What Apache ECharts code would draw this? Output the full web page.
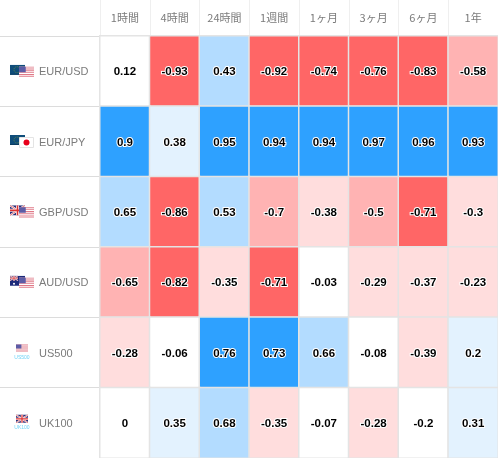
<!DOCTYPE html>
<html><head><meta charset="utf-8">
<style>html,body{margin:0;padding:0;background:#fff}#c{width:498px;height:458px}</style>
<script src="https://cdn.jsdelivr.net/npm/echarts@6/dist/echarts.min.js"></script>
</head><body><div id="c"></div>
<script>
const periods = ['1時間','4時間','24時間','1週間','1ヶ月','3ヶ月','6ヶ月','1年'];
const instruments = ['EUR/USD','EUR/JPY','GBP/USD','AUD/USD','US500','UK100'];
const subLabels = ['','','','','US500','UK100'];
const rowEURUSD = [0.12,-0.93,0.43,-0.92,-0.74,-0.76,-0.83,-0.58];
const rowEURJPY = [0.9,0.38,0.95,0.94,0.94,0.97,0.96,0.93];
const rowGBPUSD = [0.65,-0.86,0.53,-0.7,-0.38,-0.5,-0.71,-0.3];
const rowAUDUSD = [-0.65,-0.82,-0.35,-0.71,-0.03,-0.29,-0.37,-0.23];
const rowUS500 = [-0.28,-0.06,0.76,0.73,0.66,-0.08,-0.39,0.2];
const rowUK100 = [0,0.35,0.68,-0.35,-0.07,-0.28,-0.2,0.31];
const rows = [rowEURUSD,rowEURJPY,rowGBPUSD,rowAUDUSD,rowUS500,rowUK100];

const cellData = [];
rows.forEach((r,y)=>r.forEach((v,x)=>cellData.push([x,y,v])));

const eu = (x,y)=>`<g transform="translate(${x} ${y})"><rect width="15" height="10" fill="#0f4d7a"/><rect y="9" width="15" height="1" fill="#0a3c60"/><circle cx="7" cy="5" r="3" fill="none" stroke="#7f9a3a" stroke-width=".7" stroke-dasharray="1 1"/></g>`;
const usStripes = (x,y,w,h)=>{let s=`<rect x="${x}" y="${y}" width="${w}" height="${h}" fill="#fff"/>`;const n=6;for(let i=0;i<n;i++)s+=`<rect x="${x}" y="${y+i*h/n}" width="${w}" height="${h/(2*n)}" fill="#e07a88"/>`;s+=`<rect x="${x}" y="${y}" width="${w*0.45}" height="${h*0.5}" fill="#5c5ca6"/>`;return s;};
const uk = (x,y,w,h)=>`<g transform="translate(${x} ${y}) scale(${w/15} ${h/10})"><rect width="15" height="10" fill="#2b2f7a"/><path d="M0 0L15 10M15 0L0 10" stroke="#fff" stroke-width="2"/><path d="M0 0L15 10M15 0L0 10" stroke="#d33" stroke-width=".7"/><path d="M7.5 0V10M0 5H15" stroke="#fff" stroke-width="3"/><path d="M7.5 0V10M0 5H15" stroke="#d33" stroke-width="1.6"/></g>`;
const au = (x,y)=>`<g transform="translate(${x} ${y})"><rect width="15" height="10" fill="#1d2a7a"/>${uk(0,0,8,5)}<circle cx="11" cy="3" r=".8" fill="#fff"/><circle cx="13" cy="6" r=".8" fill="#fff"/><circle cx="11" cy="8" r=".8" fill="#fff"/><circle cx="4" cy="8" r="1" fill="#fff"/></g>`;
const jp = (x,y)=>`<g transform="translate(${x} ${y})"><rect x=".5" y=".5" width="14" height="10" fill="#fff" stroke="#e4e4e4"/><circle cx="7.5" cy="5.5" r="3" fill="#e8001c"/></g>`;
const pairSvg = inner=>`<svg xmlns="http://www.w3.org/2000/svg" width="24" height="13">${inner}</svg>`;
const indexSvg = inner=>`<svg xmlns="http://www.w3.org/2000/svg" width="24" height="18">${inner}</svg>`;
const flagSvgs = [
  pairSvg(eu(0,0)+usStripes(9,2,15,11)),
  pairSvg(eu(0,0)+jp(9,2)),
  pairSvg(uk(0,0,15,10)+usStripes(9,2,15,11)),
  pairSvg(au(0,0)+usStripes(9,2,15,11)),
  indexSvg(usStripes(6,1,12,8)),
  indexSvg(uk(6,1,12,8))
];
const flagSizes = [[24,13],[24,13],[24,13],[24,13],[24,18],[24,18]];
const rich = {};
flagSvgs.forEach((s,i)=>{
  rich['f'+i] = {width:flagSizes[i][0],height:flagSizes[i][1],
    backgroundColor:{image:'data:image/svg+xml;charset=utf-8,'+encodeURIComponent(s)}};
});
rich.n = {fontFamily:'Liberation Sans, Arial, sans-serif',fontSize:11,color:'#7b7b7b',padding:[2,0,0,5]};

const chart = echarts.init(document.getElementById('c'),null,{renderer:'canvas'});
chart.setOption({
  animation:false,
  backgroundColor:'#fff',
  grid:{left:100,right:0,top:36,bottom:0},
  tooltip:{show:false},
  xAxis:{type:'category',position:'top',data:periods,
    axisLine:{show:false},
    axisTick:{show:true,length:36,lineStyle:{color:'#efefef',width:1}},
    axisLabel:{interval:0,margin:13,fontSize:11,color:'#7b7b7b',fontFamily:'Noto Sans CJK JP, sans-serif'},
    splitLine:{show:false}},
  yAxis:{type:'category',inverse:true,data:instruments,
    axisLine:{show:false},
    axisTick:{show:true,length:100,lineStyle:{color:'#dcdcdc',width:1}},
    axisLabel:{interval:0,align:'left',margin:90,rich,
      formatter:(v,i)=>`{f${i}|}{n|${v}}`},
    splitLine:{show:false}},
  visualMap:{show:false,dimension:2,seriesIndex:0,type:'piecewise',
    pieces:[
      {lt:-0.7,color:'#ff6666'},
      {gte:-0.7,lte:-0.5,color:'#ffb3b3'},
      {gt:-0.5,lt:-0.2,color:'#ffdddd'},
      {gte:-0.2,lt:0.2,color:'#ffffff'},
      {gte:0.2,lt:0.4,color:'#e3f2fe'},
      {gte:0.4,lt:0.7,color:'#b3dcff'},
      {gte:0.7,color:'#2ea1ff'}
    ]},
  series:[{type:'heatmap',data:cellData,
    itemStyle:{borderColor:'#e4e4e4',borderWidth:1.5},
    emphasis:{disabled:true},
    label:{show:true,formatter:p=>String(p.value[2]),offset:[0,1],fontFamily:'Liberation Sans, Arial, sans-serif',
      fontSize:11.5,fontWeight:'bold',color:'#000',textBorderColor:'#fff',textBorderWidth:2}}]
});
chart.setOption({graphic:subLabels.map((t,i)=>({type:'text',x:22,
  y:chart.convertToPixel({yAxisIndex:0},instruments[i])+5,silent:true,
  style:{text:t,fontSize:5,fill:'#6fd3f7',align:'center',verticalAlign:'middle',fontFamily:'Liberation Sans, Arial, sans-serif'}}))});
</script></body></html>
